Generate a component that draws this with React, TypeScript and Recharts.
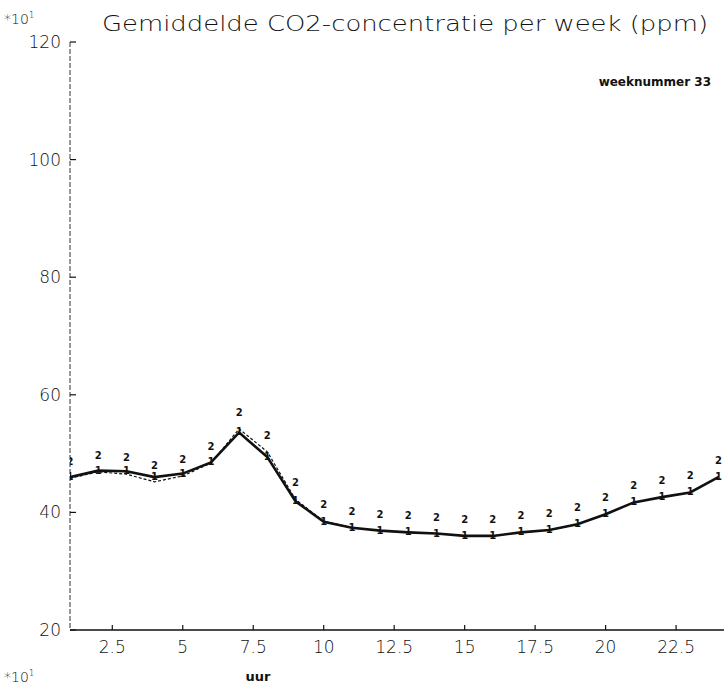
import React from "react";
import { LineChart, Line, XAxis, YAxis } from "recharts";

// Hour of day (x) and weekly-average CO2 in units of 10 ppm (y)
const hours = [1, 2, 3, 4, 5, 6, 7, 8, 9, 10, 11, 12, 13, 14, 15, 16, 17, 18, 19, 20, 21, 22, 23, 24];
const seriesOne = [46.0, 47.1, 47.0, 46.0, 46.6, 48.5, 53.6, 49.4, 41.9, 38.4, 37.4, 36.9, 36.6, 36.4, 36.0, 36.0, 36.6, 37.0, 38.0, 39.7, 41.7, 42.6, 43.4, 46.0];
const seriesTwo = [45.8, 46.9, 46.5, 45.2, 46.2, 48.4, 54.2, 50.3, 42.2, 38.5, 37.4, 36.9, 36.6, 36.4, 36.0, 36.0, 36.6, 37.0, 38.0, 39.7, 41.7, 42.6, 43.4, 46.0];
const xTicks = [2.5, 5, 7.5, 10, 12.5, 15, 17.5, 20, 22.5];
const yTicks = [20, 40, 60, 80, 100, 120];

const title = "Gemiddelde CO2-concentratie per week (ppm)";
const weekLabel = "weeknummer 33";
const xLabel = "uur";

const data = hours.map((h, i) => ({ uur: h, s1: seriesOne[i], s2: seriesTwo[i] }));

const FONT = "'DejaVu Sans', sans-serif";
const INK = "#111";

const YTick = (props: any) => {
  const { x, y, payload } = props;
  return (
    <g>
      <line x1={x + 8} x2={x + 14} y1={y} y2={y} stroke={INK} strokeWidth={1.2} />
      <text x={x - 1} y={y} textAnchor="end" dominantBaseline="central" fontFamily={FONT} fontWeight={200} fontSize={17} fill={INK}>
        {payload.value}
      </text>
    </g>
  );
};

const XTick = (props: any) => {
  const { x, y, payload } = props;
  return (
    <g>
      <line x1={x} x2={x} y1={y - 10} y2={y - 15} stroke={INK} strokeWidth={1.2} />
      <text x={x} y={y} textAnchor="middle" dominantBaseline="hanging" fontFamily={FONT} fontWeight={200} fontSize={17} fill={INK}>
        {payload.value}
      </text>
    </g>
  );
};

// Plotter-style numbered markers: "1" sits on its line, "2" is stacked just above
const makeMarker = (glyph: string, lift: number) => (props: any) => {
  const { cx, cy, index } = props;
  if (cx == null || cy == null) return <g key={`m${glyph}-${index}`} />;
  return (
    <text key={`m${glyph}-${index}`} x={cx} y={cy + lift} textAnchor="middle" fontFamily={FONT} fontWeight={900} fontSize={10} fill={INK}>
      {glyph}
    </text>
  );
};

export default function App() {
  return (
    <div style={{ position: "absolute", left: 0, top: 0, width: 724, height: 689, background: "#fff" }}>
      <LineChart width={724} height={689} data={data} margin={{ top: 42, right: 0, bottom: 0, left: 0 }}>
        <XAxis
          dataKey="uur"
          type="number"
          domain={[1, 24.2]}
          ticks={xTicks}
          allowDataOverflow
          height={59}
          tickSize={0}
          tickMargin={10}
          tick={<XTick />}
          axisLine={{ stroke: INK, strokeWidth: 1.6 }}
        />
        <YAxis
          type="number"
          domain={[20, 120]}
          ticks={yTicks}
          width={70}
          tickSize={0}
          tickMargin={8}
          tick={<YTick />}
          axisLine={{ stroke: "#333", strokeWidth: 1, strokeDasharray: "5 2" }}
        />
        <Line
          dataKey="s2"
          type="linear"
          stroke={INK}
          strokeWidth={1.2}
          strokeDasharray="3 2"
          dot={makeMarker("2", -13)}
          isAnimationActive={false}
        />
        <Line
          dataKey="s1"
          type="linear"
          stroke={INK}
          strokeWidth={2.6}
          dot={makeMarker("1", 3)}
          isAnimationActive={false}
        />
        <text x={102} y={31} textLength={606} lengthAdjust="spacingAndGlyphs" fontFamily={FONT} fontWeight={200} fontSize={22} fill={INK}>
          {title}
        </text>
        <text x={4} y={24} fontFamily={FONT} fontWeight={200} fontSize={14} fill={INK}>
          *10<tspan dy={-6} fontSize={9}>1</tspan>
        </text>
        <text x={4} y={682} fontFamily={FONT} fontWeight={200} fontSize={14} fill={INK}>
          *10<tspan dy={-6} fontSize={9}>1</tspan>
        </text>
        <text x={258} y={681} textAnchor="middle" fontFamily={FONT} fontWeight={600} fontSize={13} fill={INK}>
          {xLabel}
        </text>
        <text x={711} y={86} textAnchor="end" fontFamily={FONT} fontWeight={600} fontSize={12} fill={INK}>
          {weekLabel}
        </text>
      </LineChart>
    </div>
  );
}
